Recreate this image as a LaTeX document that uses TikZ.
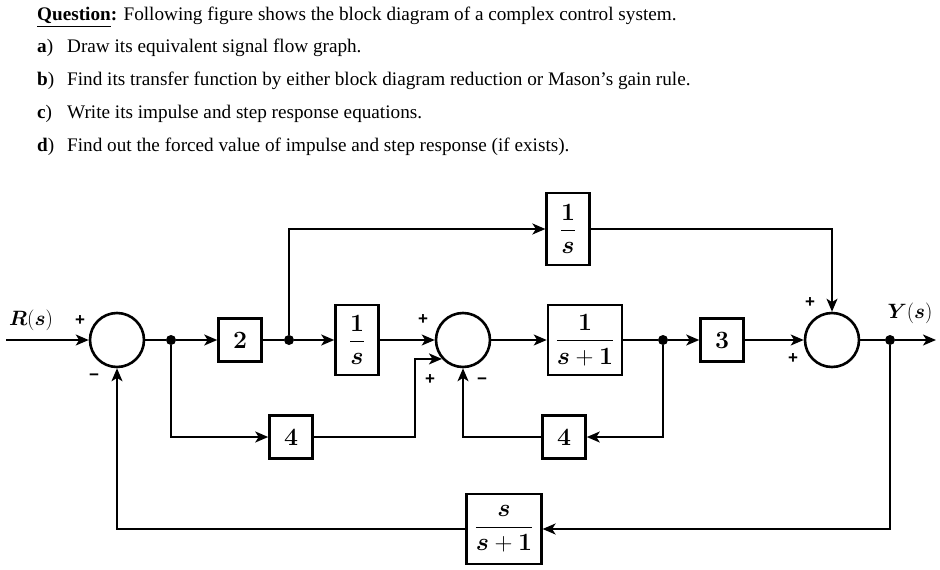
\documentclass[tikz,border=0pt]{standalone}
\usepackage[no-math]{fontspec}
\setmainfont{Liberation Serif}
\newfontfamily\signfont{Liberation Sans}
\usepackage{amsmath,bm}
\usetikzlibrary{arrows.meta,calc}
\newcommand{\bs}{\bm{s}}
\newcommand{\bplus}{\mathbin{\mathbf{+}}}
\begin{document}
\begin{tikzpicture}[x=1pt,y=-1pt,
  txt/.style={font=\fontsize{19.2}{23}\selectfont, inner sep=0pt, anchor=base west},
  sumc/.style={circle, draw, line width=2.6pt, minimum size=54pt, inner sep=0pt},
  blk/.style={rectangle, draw, line width=2.6pt, inner sep=0pt, minimum width=43pt, minimum height=43pt, font=\fontsize{24}{28}\selectfont},
  fblk/.style={blk, font=\fontsize{23}{27}\selectfont},
  thinblk/.style={fblk, line width=2.2pt},
  dotn/.style={circle, fill, minimum size=10pt, inner sep=0pt},
  sgn/.style={font=\signfont\bfseries\fontsize{17}{17}\selectfont, inner sep=0pt},
  lbl/.style={font=\fontsize{22}{26}\selectfont, inner sep=0pt},
  conn/.style={line width=1.9pt, -{Stealth[length=13pt,width=11pt,inset=3.5pt]}},
  wire/.style={line width=1.9pt},
]
\useasboundingbox (0,0) rectangle (940,570);

% question text
\node[txt] (q0) at (37,20) {\textbf{\underline{Question}:} Following figure shows the block diagram of a complex control system.};
\node[txt] (qa) at (37,52) {\makebox[30pt][l]{\textbf{a})}Draw its equivalent signal flow graph.};
\node[txt] (qb) at (37,85) {\makebox[30pt][l]{\textbf{b})}Find its transfer function by either block diagram reduction or Mason’s gain rule.};
\node[txt] (qc) at (37,118) {\makebox[30pt][l]{\textbf{c})}Write its impulse and step response equations.};
\node[txt] (qd) at (37,151) {\makebox[30pt][l]{\textbf{d})}Find out the forced value of impulse and step response (if exists).};

% summing junctions
\node[sumc] (S1) at (117,340) {};
\node[sumc] (S2) at (463,340) {};
\node[sumc] (S3) at (832,340) {};

% blocks
\node[blk] (b2) at (240,340) {$\mathbf{2}$};
\node[fblk, minimum height=70pt] (bi1) at (357,340) {$\dfrac{\mathbf{1}}{\bs}$};
\node[fblk, minimum width=74pt, minimum height=70pt] (bs1) at (585,340) {$\dfrac{\mathbf{1}}{\bs\bplus\mathbf{1}}$};
\node[blk] (b3) at (722,340) {$\mathbf{3}$};
\node[blk] (b4a) at (291,437) {$\mathbf{4}$};
\node[blk] (b4b) at (564,437) {$\mathbf{4}$};
\node[thinblk, minimum height=72pt] (btop) at (568,229) {$\dfrac{\mathbf{1}}{\bs}$};
\node[thinblk, minimum width=75pt, minimum height=70pt] (bfb) at (504,529) {$\dfrac{\bs}{\bs\bplus\mathbf{1}}$};

% take-off points
\node[dotn] (A) at (171,340) {};
\node[dotn] (B) at (289,340) {};
\node[dotn] (C) at (663,340) {};
\node[dotn] (D) at (890,340) {};

% input / output
\coordinate (rin) at (6,340);
\coordinate (yout) at (936,340);
\node[lbl] (R) at (31,320) {$\bm{R}\mathbf{(}\bs\mathbf{)}$};
\node[lbl] (Y) at (910,313) {$\bm{Y}\mathbf{(}\bs\mathbf{)}$};

% signs
\node[sgn] (s1p) at (80,321) {+};
\node[sgn] (s1m) at (94,377) {−};
\node[sgn] (s2p) at (423,320) {+};
\node[sgn] (s2q) at (430,380) {+};
\node[sgn] (s2m) at (482,381) {−};
\node[sgn] (s3p) at (810,303) {+};
\node[sgn] (s3q) at (793,359) {+};

% forward path
\draw[conn] (rin) -- (S1.west);
\draw[wire] (S1.east) -- (A);
\draw[conn] (A) -- (b2.west);
\draw[wire] (b2.east) -- (B);
\draw[conn] (B) -- (bi1.west);
\draw[conn] (bi1.east) -- (S2.west);
\draw[conn] (S2.east) -- (bs1.west);
\draw[wire] (bs1.east) -- (C);
\draw[conn] (C) -- (b3.west);
\draw[conn] (b3.east) -- (S3.west);
\draw[wire] (S3.east) -- (D);
\draw[conn] (D) -- (yout);

% top feedforward
\draw[conn] (B) |- (btop.west);
\draw[conn] (btop.east) -| (S3.north);

% lower feedforward through 4
\draw[conn] (A) |- (b4a.west);
\draw[conn] (b4a.east) -| ($(S2.222)+(-27,0)$) -- (S2.222);

% inner feedback
\draw[conn] (C) |- (b4b.east);
\draw[conn] (b4b.west) -| (S2.south);

% outer feedback
\draw[conn] (D) |- (bfb.east);
\draw[conn] (bfb.west) -| (S1.south);
\end{tikzpicture}
\end{document}
